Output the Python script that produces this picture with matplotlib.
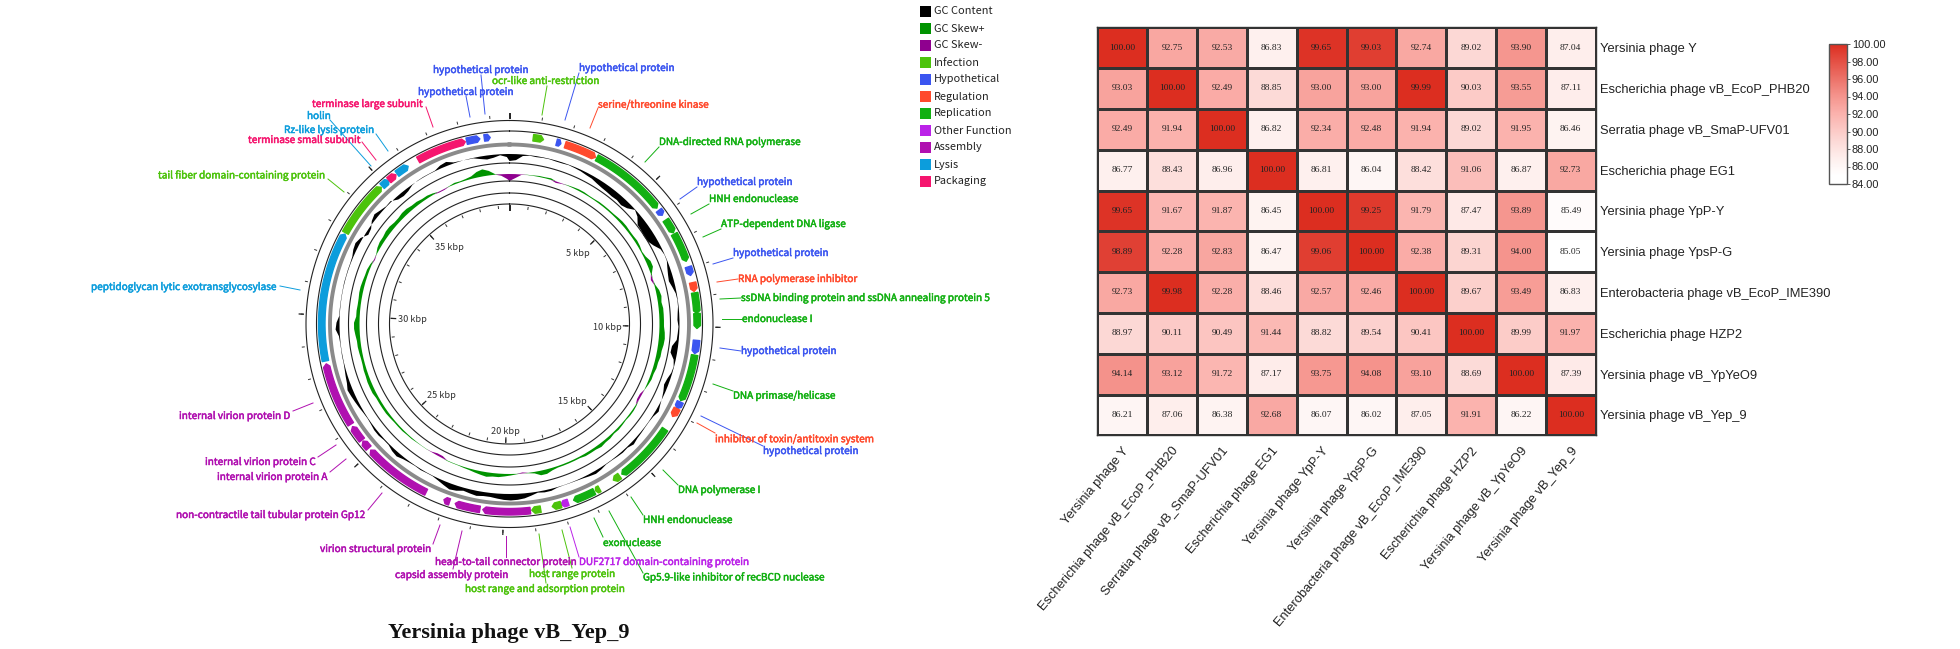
import matplotlib
matplotlib.use("Agg")
import matplotlib.pyplot as plt
import matplotlib.patheffects as pe
import numpy as np
from matplotlib.colors import LinearSegmentedColormap

plt.rcParams['path.simplify'] = False

W, H = 1960, 649
sans = ['Noto Sans CJK SC', 'DejaVu Sans']

# ---- genome map data ----
genome_kb = 39.6
major_kb = [0, 5, 10, 15, 20, 25, 30, 35]
minor_kb = list(range(0, 40))

legend_names = ['GC Content', 'GC Skew+', 'GC Skew-', 'Infection', 'Hypothetical', 'Regulation',
                'Replication', 'Other Function', 'Assembly', 'Lysis', 'Packaging']
legend_colors = ['#000000', '#009300', '#8f008f', '#4cc30b', '#3b55f0', '#ff4a2d',
                 '#12b012', '#bb22e8', '#b010b0', '#0c9ddc', '#f5156e']
colors = dict(zip(legend_names, legend_colors))

gene_start = [0.8, 1.6, 1.9, 3.05, 5.8, 6.2, 6.75, 7.95, 8.5, 8.85, 9.55, 10.45, 10.95, 12.6, 12.85,
              13.65, 15.85, 16.65, 16.85, 17.8, 18.05, 18.75, 19.1, 20.8, 21.85, 22.7, 25.15, 25.5,
              26.15, 28.45, 32.9, 34.9, 35.2, 35.55, 36.4, 38.15, 38.75]
gene_end = [1.15, 1.75, 3.0, 5.7, 6.0, 6.7, 7.75, 8.25, 8.8, 9.55, 10.05, 10.9, 12.55, 12.85, 13.15,
            15.75, 16.1, 16.8, 17.6, 18.05, 18.35, 19.05, 20.7, 21.65, 22.05, 25.05, 25.45, 26.05,
            28.35, 32.85, 34.85, 35.2, 35.5, 36.0, 38.1, 38.6, 38.95]
gene_type = ['Infection', 'Hypothetical', 'Regulation', 'Replication', 'Hypothetical', 'Replication',
             'Replication', 'Hypothetical', 'Regulation', 'Replication', 'Replication', 'Hypothetical',
             'Replication', 'Hypothetical', 'Regulation', 'Replication', 'Infection', 'Infection',
             'Replication', 'Other Function', 'Infection', 'Infection', 'Assembly', 'Assembly',
             'Assembly', 'Assembly', 'Assembly', 'Assembly', 'Assembly', 'Lysis', 'Infection',
             'Lysis', 'Packaging', 'Lysis', 'Packaging', 'Hypothetical', 'Hypothetical']

# read every 0.25 kbp
gc_content = [-7, -6, -1.5, -.5, -1, -.6, -.5, -1, -1, -.5, -1, -1.5, -2.5, -3, -4.5, -5.5, -6, -6.5, -6, -7,
              -5, -.4, -3, -8, -8.5, -9.5, -9, -6, -1.5, -.3, -.5, -2.5, -4, -5, -3, -1, -.4, -.6, -1.5, -2,
              -1, -1.5, -2, -6, -6.5, -2, -.4, -1, -3, -4, -2, -.4, 1, 3, 1, .4, .5, 1, 1.5, 3,
              1, 1.5, 1, .5, .5, 2, 3, 2, 1, .5, .3, .2, .5, 2, 2, 1, 3, 5, 6, 6.5,
              6, 5, 4, 4, 5, 4, 3, 5, 6, 4, 2, .5, .5, 1, .5, 1, 2, 4, 3, 1,
              1, 2, 2, 1, .5, 1, 2, 3, 4, 5, 3, 2, 1, .4, .5, .3, .4, 1, 4, 3,
              .4, .4, .3, .3, .3, .5, .4, .5, .5, 1, 3, 4, 2, -3, -2, 2, 4, 2, .5, 1,
              -3, -4, -3, -.5, .3, .5, .4, .5, 3, 4, 1, .3, -.3, -.5, -2.5, -4, -3, -1, -3]
gc_skew = [-7, -4, -.5, .3, .5, 1, 1, 1.5, -1.5, -.5, .5, 1, 1.5, 1.5, 1, 1, 1.5, 1.5, 1.5, 1.5,
           2, 2.5, 2.5, 2, 2, 2.5, 2, 1, 2, 4.5, 4.5, 1, -2, 1, 3.5, 4.5, 3.5, 4.5, 4.5, 4.5,
           4.5, 5.5, 6, 5.5, 4.5, 4.5, 3.5, 3.5, 2.5, 2.5, 1.5, .3, -2, -2, 1, 1.5, 1.5, 1, 1.5, 2,
           1.5, 2.5, 2.5, 3.5, 2.5, 2.5, 2.5, 1.5, 1.5, 1.5, 1.5, 1.5, 2.5, 4.5, 4.5, 1.5, .5, -1, .5, 1.5,
           2.5, 3.5, 3.5, 4.5, 3.5, 2.5, 1.5, 1, .5, .5, .5, -2, -2, -.5, .3, .3, .5, 1, 1, 1.5,
           1.5, 1.5, 2, 2.5, 2.5, 2.5, 2.5, 3.5, 3.5, 3.5, 3, 3, 2.5, 2.5, 3, 3.5, 3.5, 4.5, 5.5, 5.5,
           3.5, 3.5, 3, 3, 3.5, 3.5, 3, 2.5, 2.5, 1.5, -1, .5, 2.5, 3.5, 3.5, 4.5, 4.5, 3.5, 3.5, 4.5,
           4.5, 3.5, 3.5, 2.5, 2.5, 1.5, -1, -1, .5, 1.5, 1, 1.5, 2.5, 5.5, 7, 4.5, .5, -1.5, -5]

# text, colour class, text left x, text centre y, leader line (x0, y0, x1, y1)
gene_labels = [
    ('tail fiber domain-containing protein', 'Infection', 158, 175, (328, 179, 344, 192)),
    ('terminase small subunit', 'Packaging', 248, 140, (362, 142, 376, 160)),
    ('Rz-like lysis protein', 'Lysis', 284, 130, (376, 134, 388, 151)),
    ('holin', 'Lysis', 307, 116, (330, 120, 371, 166)),
    ('terminase large subunit', 'Packaging', 312, 104, (426, 107, 433, 127)),
    ('hypothetical protein', 'Hypothetical', 433, 70, (481, 75, 485, 114)),
    ('hypothetical protein', 'Hypothetical', 418, 92, (466, 96, 470, 117)),
    ('ocr-like anti-restriction', 'Infection', 492, 81, (547, 86, 542, 115)),
    ('hypothetical protein', 'Hypothetical', 579, 68, (579, 73, 565, 120)),
    ('serine/threonine kinase', 'Regulation', 598, 105, (598, 108, 590, 128)),
    ('DNA-directed RNA polymerase', 'Replication', 659, 142, (659, 147, 645, 162)),
    ('hypothetical protein', 'Hypothetical', 697, 182, (697, 187, 680, 199)),
    ('HNH endonuclease', 'Replication', 709, 199, (709, 204, 691, 214)),
    ('ATP-dependent DNA ligase', 'Replication', 721, 224, (721, 229, 703, 237)),
    ('hypothetical protein', 'Hypothetical', 733, 253, (733, 258, 713, 264)),
    ('RNA polymerase inhibitor', 'Regulation', 738, 279, (738, 279, 717, 282)),
    ('ssDNA binding protein and ssDNA annealing protein 5', 'Replication', 741, 298, (741, 298, 720, 299)),
    ('endonuclease I', 'Replication', 742, 319, (742, 319, 722, 319)),
    ('hypothetical protein', 'Hypothetical', 741, 351, (741, 351, 720, 348)),
    ('DNA primase/helicase', 'Replication', 733, 396, (733, 391, 713, 384)),
    ('inhibitor of toxin/antitoxin system', 'Regulation', 715, 439, (715, 433, 697, 423)),
    ('hypothetical protein', 'Hypothetical', 763, 451, (763, 446, 701, 416)),
    ('DNA polymerase I', 'Replication', 678, 490, (678, 485, 663, 470)),
    ('HNH endonuclease', 'Replication', 643, 520, (643, 515, 631, 497)),
    ('exonuclease', 'Replication', 603, 543, (603, 537, 594, 518)),
    ('Gp5.9-like inhibitor of recBCD nuclease', 'Replication', 643, 577, (643, 573, 609, 511)),
    ('DUF2717 domain-containing protein', 'Other Function', 579, 562, (579, 557, 570, 527)),
    ('host range protein', 'Infection', 529, 574, (572, 568, 562, 530)),
    ('host range and adsorption protein', 'Infection', 465, 589, (546, 583, 539, 534)),
    ('head-to-tail connector protein', 'Assembly', 435, 562, (506, 557, 506, 536)),
    ('capsid assembly protein', 'Assembly', 395, 575, (453, 569, 462, 531)),
    ('virion structural protein', 'Assembly', 320, 549, (433, 544, 440, 525)),
    ('non-contractile tail tubular protein Gp12', 'Assembly', 176, 515, (368, 510, 382, 493)),
    ('internal virion protein A', 'Assembly', 217, 477, (330, 472, 346, 459)),
    ('internal virion protein C', 'Assembly', 205, 462, (318, 457, 336, 445)),
    ('internal virion protein D', 'Assembly', 179, 416, (293, 411, 313, 403)),
    ('peptidoglycan lytic exotransglycosylase', 'Lysis', 91, 287, (280, 286, 300, 290)),
]
kbp_labels = [('5 kbp', 578, 253), ('10 kbp', 607, 327), ('15 kbp', 572, 402), ('20 kbp', 505, 432),
              ('25 kbp', 441, 396), ('30 kbp', 412, 319), ('35 kbp', 449, 247)]

# ---- heatmap data ----
phages = ['Yersinia phage Y', 'Escherichia phage vB_EcoP_PHB20', 'Serratia phage vB_SmaP-UFV01',
          'Escherichia phage EG1', 'Yersinia phage YpP-Y', 'Yersinia phage YpsP-G',
          'Enterobacteria phage vB_EcoP_IME390', 'Escherichia phage HZP2',
          'Yersinia phage vB_YpYeO9', 'Yersinia phage vB_Yep_9']
identity = np.array([
    [100.00, 92.75, 92.53, 86.83, 99.65, 99.03, 92.74, 89.02, 93.90, 87.04],
    [93.03, 100.00, 92.49, 88.85, 93.00, 93.00, 99.99, 90.03, 93.55, 87.11],
    [92.49, 91.94, 100.00, 86.82, 92.34, 92.48, 91.94, 89.02, 91.95, 86.46],
    [86.77, 88.43, 86.96, 100.00, 86.81, 86.04, 88.42, 91.06, 86.87, 92.73],
    [99.65, 91.67, 91.87, 86.45, 100.00, 99.25, 91.79, 87.47, 93.89, 85.49],
    [98.89, 92.28, 92.83, 86.47, 99.06, 100.00, 92.38, 89.31, 94.00, 85.05],
    [92.73, 99.98, 92.28, 88.46, 92.57, 92.46, 100.00, 89.67, 93.49, 86.83],
    [88.97, 90.11, 90.49, 91.44, 88.82, 89.54, 90.41, 100.00, 89.99, 91.97],
    [94.14, 93.12, 91.72, 87.17, 93.75, 94.08, 93.10, 88.69, 100.00, 87.39],
    [86.21, 87.06, 86.38, 92.68, 86.07, 86.02, 87.05, 91.91, 86.22, 100.00],
])
cbar_ticks = [84, 86, 88, 90, 92, 94, 96, 98, 100]


def px_axes(fig, left, top, width, height, **kw):
    return fig.add_axes([left / W, 1 - (top + height) / H, width / W, height / H], **kw)


def kb2rad(kb):
    return np.asarray(kb) / genome_kb * 2 * np.pi


def track(theta, base, values, color):
    # closed band between the baseline and the values, no outline so zero stretches stay empty
    ax.fill(np.r_[theta, theta[::-1]], np.r_[base + values, np.full_like(values, base)], color=color, lw=0)


fig = plt.figure(figsize=(W / 100, H / 100), dpi=100, facecolor='white')

# genome ring, radius in pixels
cx, cy, rmax = 509.5, 324, 215
ax = px_axes(fig, cx - rmax, cy - rmax, 2 * rmax, 2 * rmax, projection='polar')
ax.set_theta_zero_location('N')
ax.set_theta_direction(-1)
ax.set_ylim(0, rmax)
ax.axis('off')

circle = np.linspace(0, 2 * np.pi, 721)
for r in [120, 131, 143, 161, 193, 203.5]:
    ax.plot(circle, np.full_like(circle, r), color='#222222', lw=0.8)
ax.plot(circle, np.full_like(circle, 179.5), color='#8a8a8a', lw=2.8)

# inner and outer tick marks
for kb in minor_kb:
    t = kb2rad(kb)
    ax.plot([t, t], [206.5, 208.5], color='#333333', lw=0.7)
    ax.plot([t, t], [116, 118], color='#333333', lw=0.7)
for kb in major_kb:
    t = kb2rad(kb)
    ax.plot([t, t], [206.5, 210.5], color='#222222', lw=0.9 if kb else 1.4)
    ax.plot([t, t], [114, 118.5], color='#222222', lw=0.9 if kb else 1.4)

# GC tracks
pos = np.append(np.arange(len(gc_content)) * 0.25, genome_kb)
content = np.array(gc_content + [gc_content[0]], dtype=float)
skew = np.array(gc_skew + [gc_skew[0]], dtype=float)
theta = kb2rad(pos)
track(theta, 170, content, colors['GC Content'])
track(theta, 150, np.maximum(skew, 0), colors['GC Skew+'])
track(theta, 150, np.minimum(skew, 0), colors['GC Skew-'])

# genes
for s, e, kind in zip(gene_start, gene_end, gene_type):
    head = min(0.1, (e - s) * 0.4)
    arc = np.linspace(s, e - head, 30)
    th = np.concatenate([arc, [e], arc[::-1]])
    rr = np.concatenate([np.full(30, 191), [187.5], np.full(30, 184.5)])
    ax.fill(kb2rad(th), rr, color=colors[kind], lw=1.0, joinstyle='round')

# overlay in image pixels for the labels
ov = fig.add_axes([0, 0, 1, 1])
ov.set_xlim(0, W)
ov.set_ylim(H, 0)
ov.axis('off')
ov.patch.set_alpha(0)

for text, kind, x, y, line in gene_labels:
    c = colors[kind]
    ov.plot([line[0], line[2]], [line[1], line[3]], color=c, lw=0.7)
    ov.text(x, y, text, color=c, fontsize=7.2, family=sans, ha='left', va='center',
            path_effects=[pe.withStroke(linewidth=0.35, foreground=c)])
for text, x, y in kbp_labels:
    ov.text(x, y, text, color='#333333', fontsize=6.6, family=sans, ha='center', va='center')

ov.text(509, 633, 'Yersinia phage vB_Yep_9', fontsize=16, family='Liberation Serif', weight='bold',
        color='#111111', ha='center', va='center')

# legend
for i, (name, c) in enumerate(zip(legend_names, legend_colors)):
    y = 11.5 + 17 * i
    ov.fill_between([920, 931], y - 5.5, y + 5.5, color=c, lw=0)
    ov.text(934, y, name, color='#222222', fontsize=7.9, family=sans, ha='left', va='center')

# heatmap
cmap = LinearSegmentedColormap.from_list('ident', [
    (0, '#ffffff'), (1 / 16, '#ffffff'), (3 / 16, '#feeeec'), (5 / 16, '#fcd8d5'), (8 / 16, '#fbb2ad'),
    (10 / 16, '#f5958e'), (1, '#dc2e20')])
hm = px_axes(fig, 1097.3, 27.3, 498.4, 408)
mesh = hm.pcolormesh(identity, cmap=cmap, vmin=84, vmax=100, edgecolors='#333333', linewidth=0.8)
hm.set_xlim(0, 10)
hm.set_ylim(10, 0)
for i in range(10):
    for j in range(10):
        hm.text(j + 0.5, i + 0.5, '%.2f' % identity[i, j], ha='center', va='center',
                fontsize=6.8, family='Liberation Serif', color='#222222')
for spine in hm.spines.values():
    spine.set_color('#333333')
    spine.set_linewidth(1.0)
hm.yaxis.tick_right()
hm.set_yticks(np.arange(10) + 0.5, phages, family='Liberation Sans', fontsize=9.3, color='#222222')
hm.set_xticks(np.arange(10) + 0.5, phages, family='Liberation Sans', fontsize=9.3, color='#222222',
              rotation=50, ha='right', rotation_mode='anchor')
hm.tick_params(axis='x', length=0, pad=7)
hm.tick_params(axis='y', length=0, pad=3)

cax = px_axes(fig, 1828.5, 44, 18.5, 140)
cb = fig.colorbar(mesh, cax=cax, ticks=cbar_ticks, format='%.2f')
cb.outline.set_edgecolor('#555555')
cb.outline.set_linewidth(1.0)
cb.ax.tick_params(labelsize=7.9, length=2, width=0.6, pad=1.5, color='#444444', labelcolor='#222222')
for lab in cb.ax.get_yticklabels():
    lab.set_family('Liberation Sans')

fig.savefig('out.png', dpi=100)
